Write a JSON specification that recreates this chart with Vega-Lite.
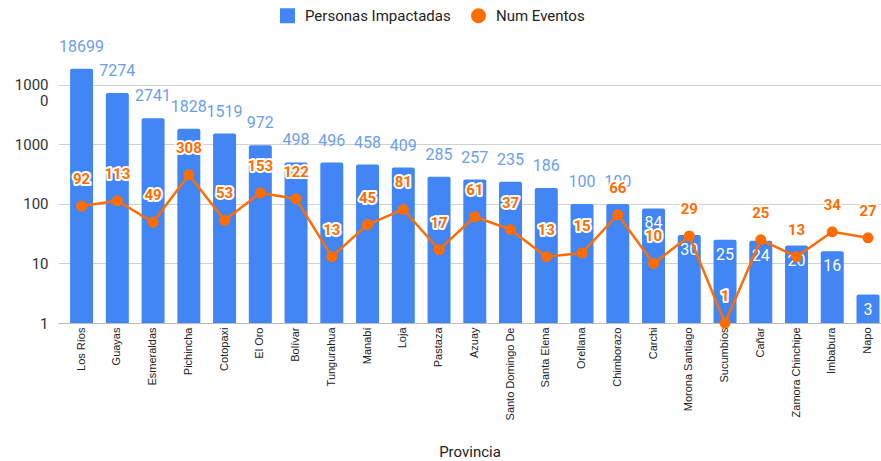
{
  "$schema": "https://vega.github.io/schema/vega-lite/v6.json",
  "width": 823,
  "height": 256,
  "autosize": {"type": "none"},
  "padding": {"left": 58, "top": 67, "right": 0, "bottom": 138},
  "background": "white",
  "config": {"view": {"stroke": null}, "font": "Roboto"},
  "data": {
    "values": [
      {"Provincia": "Los Ríos", "Personas": 18699, "Eventos": 92},
      {"Provincia": "Guayas", "Personas": 7274, "Eventos": 113},
      {"Provincia": "Esmeraldas", "Personas": 2741, "Eventos": 49},
      {"Provincia": "Pichincha", "Personas": 1828, "Eventos": 308},
      {"Provincia": "Cotopaxi", "Personas": 1519, "Eventos": 53},
      {"Provincia": "El Oro", "Personas": 972, "Eventos": 153},
      {"Provincia": "Bolívar", "Personas": 498, "Eventos": 122},
      {"Provincia": "Tungurahua", "Personas": 496, "Eventos": 13},
      {"Provincia": "Manabí", "Personas": 458, "Eventos": 45},
      {"Provincia": "Loja", "Personas": 409, "Eventos": 81},
      {"Provincia": "Pastaza", "Personas": 285, "Eventos": 17},
      {"Provincia": "Azuay", "Personas": 257, "Eventos": 61},
      {"Provincia": "Santo Domingo De", "Personas": 235, "Eventos": 37},
      {"Provincia": "Santa Elena", "Personas": 186, "Eventos": 13},
      {"Provincia": "Orellana", "Personas": 100, "Eventos": 15},
      {"Provincia": "Chimborazo", "Personas": 100, "Eventos": 66},
      {"Provincia": "Carchi", "Personas": 84, "Eventos": 10},
      {"Provincia": "Morona Santiago", "Personas": 30, "Eventos": 29},
      {"Provincia": "Sucumbíos", "Personas": 25, "Eventos": 1},
      {"Provincia": "Cañar", "Personas": 24, "Eventos": 25},
      {"Provincia": "Zamora Chinchipe", "Personas": 20, "Eventos": 13},
      {"Provincia": "Imbabura", "Personas": 16, "Eventos": 34},
      {"Provincia": "Napo", "Personas": 3, "Eventos": 27}
    ]
  },
  "encoding": {
    "x": {
      "field": "Provincia",
      "type": "nominal",
      "sort": null,
      "scale": {"paddingInner": 0.357, "paddingOuter": 0.19, "align": 0.89},
      "axis": {
        "title": "Provincia",
        "titleFontSize": 15,
        "titleFontWeight": "normal",
        "titleColor": "#222",
        "titleY": 128,
        "titleBaseline": "middle",
        "labelAngle": -90,
        "labelFontSize": 11,
        "labelFont": "Liberation Sans",
        "labelColor": "#222",
        "labelPadding": 4,
        "ticks": false,
        "domainColor": "#bbb"
      }
    }
  },
  "layer": [
    {
      "mark": {"type": "bar", "cornerRadiusTopLeft": 2, "cornerRadiusTopRight": 2},
      "encoding": {
        "y": {
          "field": "Personas",
          "type": "quantitative",
          "scale": {"type": "log", "domain": [1, 19953], "nice": false},
          "axis": {
            "title": null,
            "values": [1, 10, 100, 1000, 10000],
            "labelExpr": "datum.value >= 10000 ? ['1000', '0'] : format(datum.value, 'd')",
            "labelFontSize": 15,
            "labelColor": "#333",
            "labelPadding": 10,
            "labelLineHeight": 16,
            "grid": true,
            "gridColor": "#d0d0d0",
            "domain": false,
            "ticks": false
          }
        },
        "y2": {"datum": 1},
        "color": {
          "datum": "Personas Impactadas",
          "scale": {"domain": ["Personas Impactadas", "Num Eventos"], "range": ["#4285F4", "#FF6D01"]},
          "legend": {
            "orient": "none",
            "legendX": 222,
            "legendY": -59,
            "direction": "horizontal",
            "columns": 2,
            "title": null,
            "labelFontSize": 15,
            "labelColor": "#222",
            "labelFont": "Roboto",
            "symbolSize": 225,
            "labelOffset": 10,
            "columnPadding": 20,
            "symbolStrokeWidth": 0
          }
        }
      }
    },
    {
      "transform": [{"filter": "datum.Personas >= 100"}],
      "mark": {"type": "text", "dy": -22, "baseline": "middle", "fontSize": 16, "color": "#6d9eeb"},
      "encoding": {
        "y": {"field": "Personas", "type": "quantitative"},
        "text": {"field": "Personas", "type": "quantitative", "format": "d"}
      }
    },
    {
      "transform": [{"filter": "datum.Personas < 100"}],
      "mark": {"type": "text", "dy": 15, "baseline": "middle", "fontSize": 16, "color": "white"},
      "encoding": {
        "y": {"field": "Personas", "type": "quantitative"},
        "text": {"field": "Personas", "type": "quantitative", "format": "d"}
      }
    },
    {
      "mark": {"type": "line", "color": "#FF6D01", "strokeWidth": 2.5},
      "encoding": {
        "y": {"field": "Eventos", "type": "quantitative"}
      }
    },
    {
      "mark": {"type": "point", "filled": true, "size": 121, "opacity": 1},
      "encoding": {
        "y": {"field": "Eventos", "type": "quantitative"},
        "color": {"datum": "Num Eventos"},
        "shape": {
          "datum": "Num Eventos",
          "scale": {"domain": ["Personas Impactadas", "Num Eventos"], "range": ["square", "circle"]},
          "legend": {
            "orient": "none",
            "legendX": 222,
            "legendY": -59,
            "direction": "horizontal",
            "columns": 2,
            "title": null,
            "labelFontSize": 15,
            "labelColor": "#222",
            "labelFont": "Roboto",
            "symbolSize": 225,
            "labelOffset": 10,
            "columnPadding": 20,
            "symbolStrokeWidth": 0
          }
        }
      }
    },
    {
      "mark": {"type": "text", "dy": -27, "baseline": "middle", "fontSize": 15, "fontWeight": "bold", "color": "white", "stroke": "white", "strokeWidth": 4, "strokeJoin": "round"},
      "encoding": {
        "y": {"field": "Eventos", "type": "quantitative"},
        "text": {"field": "Eventos", "type": "quantitative", "format": "d"}
      }
    },
    {
      "mark": {"type": "text", "dy": -27, "baseline": "middle", "fontSize": 15, "fontWeight": "bold", "color": "#FF6D01"},
      "encoding": {
        "y": {"field": "Eventos", "type": "quantitative"},
        "text": {"field": "Eventos", "type": "quantitative", "format": "d"}
      }
    }
  ]
}
